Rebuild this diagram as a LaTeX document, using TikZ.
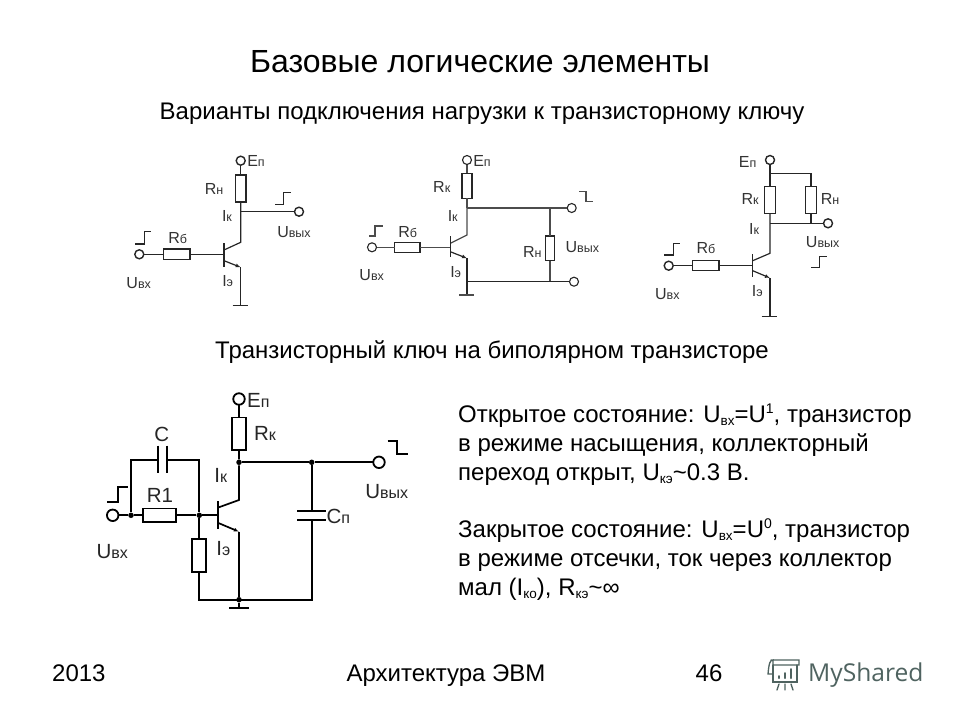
\documentclass[tikz,border=0pt]{standalone}
\usepackage{fontspec}
\setmainfont{Liberation Sans}
\newfontfamily\logofont{Open Sans}
\usetikzlibrary{arrows.meta}
\definecolor{logocol}{HTML}{4F6360}
\newcommand{\fs}[1]{\fontsize{#1}{#1}\selectfont}
\newcommand{\lo}[1]{\raisebox{-3.5pt}{\fs{13.5}#1}}
\newcommand{\hi}[1]{\raisebox{8.5pt}{\fs{14}#1}}
\newcommand{\ca}[1]{{\fs{16}#1}}
\newcommand{\cb}[1]{{\fs{20.5}#1}}
\tikzset{
  wire/.style={draw=black!85,line width=1.2pt},
  wireb/.style={draw=black,line width=1.7pt},
  rbox/.style={draw=black!85,line width=1.2pt,fill=white,rectangle,inner sep=0pt,outer sep=0pt},
  rboxb/.style={rbox,draw=black,line width=1.7pt},
  term/.style={draw=black!85,line width=1.4pt,fill=white,circle,inner sep=0pt,outer sep=0pt,minimum size=9pt},
  termb/.style={term,draw=black,line width=1.8pt,minimum size=11.5pt},
  dotn/.style={fill=black,circle,inner sep=0pt,minimum size=5.5pt},
  lab/.style={inner sep=0pt,text=black!80,font=\fs{12.5}},
  labb/.style={inner sep=0pt,text=black!85,font=\fs{16}},
  body/.style={inner sep=0pt,anchor=base west,font=\fs{24}},
  emit/.style={-{Latex[length=5pt,width=4pt]}},
}
\begin{document}
\begin{tikzpicture}[x=1pt,y=-1pt]
\useasboundingbox[fill=white] (0,0) rectangle (960,720);
% Texts
\node[inner sep=0pt,font=\fs{32}] (title) at (480,62) {Базовые логические элементы};
\node[inner sep=0pt,font=\fs{24}] (sub1) at (482,114) {Варианты подключения нагрузки к транзисторному ключу};
\node[inner sep=0pt,font=\fs{24}] (sub2) at (492,352) {Транзисторный ключ на биполярном транзисторе};
\node[body] (t1) at (458,422) {Открытое состояние: U\lo{вх}=U\hi{1}, транзистор};
\node[body] (t2) at (458,451) {в режиме насыщения, коллекторный};
\node[body] (t3) at (458,480) {переход открыт, U\lo{кэ}\textasciitilde0.3 В.};
\node[body] (t4) at (458,537) {Закрытое состояние: U\lo{вх}=U\hi{0}, транзистор};
\node[body] (t5) at (458,566.5) {в режиме отсечки, ток через коллектор};
\node[body] (t6) at (458,595) {мал (I\lo{ко}), R\lo{кэ}\textasciitilde∞};
\node[inner sep=0pt,anchor=base west,font=\fs{24}] (f1) at (52,681) {2013};
\node[inner sep=0pt,anchor=base,font=\fs{24}] (f2) at (446,681) {Архитектура ЭВМ};
\node[inner sep=0pt,anchor=base,font=\fs{24}] (f3) at (709,681) {46};
% Logo
\node[inner sep=0pt,anchor=west,text=logocol,font=\logofont\fs{24.6}] (logo) at (808,675) {MyShared};
\begin{scope}[draw=logocol,line width=1.3pt,line cap=round]
\draw (771,660) -- (799,660) -- (799,665) -- (773,665) -- (773,660) .. controls (770,660) and (769,663) .. (768,674) -- (772,674);
\draw (773,665) -- (773,682) -- (797,682) -- (797,665);
\draw (779,684) -- (777,690) (785,684) -- (785,690) (791,684) -- (793,690);
\draw[line width=2pt] (779,678) -- (779,676) (785,678) -- (785,673) (791,678) -- (791,669);
\end{scope}
% ---------- Circuit 1
\node[term] (a_e) at (240.7,160.7) {};
\node[rbox,minimum width=10.7pt,minimum height=27pt] (a_rn) at (240.7,188.5) {};
\coordinate (a_j) at (240.7,211.7);
\node[term] (a_out) at (299,211.7) {};
\coordinate (a_c) at (240.7,242.3);
\coordinate (a_bt) at (224,243.3);
\coordinate (a_bb) at (224,266.7);
\coordinate (a_cb) at (224,250);
\coordinate (a_eb) at (224,260.7);
\coordinate (a_ee) at (240.7,267.3);
\coordinate (a_g) at (240.7,305.7);
\coordinate (a_gl) at (232.7,305.7);
\coordinate (a_gr) at (248.3,305.7);
\coordinate (a_b) at (224,254.3);
\node[term] (a_in) at (139.3,254.3) {};
\node[rbox,minimum width=26.7pt,minimum height=10.7pt] (a_rb) at (176.7,254.3) {};
\draw[wire] (a_e) -- (a_rn);
\draw[wire] (a_rn) -- (a_j) -- (a_c) -- (a_cb);
\draw[wire] (a_j) -- (a_out);
\draw[wire] (a_bt) -- (a_bb);
\draw[wire,emit] (a_eb) -- (a_ee);
\draw[wire] (a_ee) -- (a_g);
\draw[wire] (a_gl) -- (a_gr);
\draw[wire] (a_in) -- (a_rb);
\draw[wire] (a_rb) -- (a_b);
\draw[wire] (135,244) -- (144.3,244) -- (144.3,231.7) -- (150.7,231.7);
\draw[wire] (275,204.3) -- (283.3,204.3) -- (283.3,192.7) -- (290.7,192.7);
\node[lab] (a_l1) at (256,161) {\ca{E}п};
\node[lab] (a_l2) at (214,189) {\ca{R}н};
\node[lab] (a_l3) at (227,216) {\ca{I}к};
\node[lab] (a_l4) at (177.7,237.7) {\ca{R}б};
\node[lab] (a_l5) at (138.7,283.3) {\ca{U}вх};
\node[lab] (a_l6) at (227.7,281) {\ca{I}э};
\node[lab] (a_l7) at (294,232.3) {\ca{U}вых};
% ---------- Circuit 2
\node[term,line width=1.1pt] (b_e) at (467,160) {};
\node[rbox,minimum width=10pt,minimum height=25pt] (b_rk) at (467,185.8) {};
\coordinate (b_j) at (467,208);
\node[term,line width=1.1pt] (b_out) at (571.7,208) {};
\coordinate (b_n) at (550,208);
\node[rbox,minimum width=9.7pt,minimum height=24.7pt] (b_rn) at (550,248.4) {};
\coordinate (b_m) at (550,281.7);
\node[term,line width=1.1pt] (b_lo) at (574,281.7) {};
\coordinate (b_c) at (467,235);
\coordinate (b_bt) at (450.3,236);
\coordinate (b_bb) at (450.3,257.3);
\coordinate (b_cb) at (450.3,243.3);
\coordinate (b_eb) at (450.3,251.7);
\coordinate (b_ee) at (467,258.3);
\coordinate (b_k) at (467,281.7);
\coordinate (b_g) at (467,295);
\coordinate (b_gl) at (459,295);
\coordinate (b_gr) at (474,295);
\coordinate (b_b) at (450.3,247.3);
\node[term,line width=1.1pt] (b_in) at (372,247.3) {};
\node[rbox,minimum width=25.3pt,minimum height=10pt] (b_rb) at (407.3,247.3) {};
\draw[wire,black!70] (b_e) -- (b_rk);
\draw[wire,black!70] (b_rk) -- (b_j);
\draw[wire,black!70] (b_j) -- (b_out);
\draw[wire,black!70] (b_j) -- (b_c) -- (b_cb);
\draw[wire,black!70] (b_n) -- (b_rn);
\draw[wire,black!70] (b_rn) -- (b_m);
\draw[wire] (b_bt) -- (b_bb);
\draw[wire,emit] (b_eb) -- (b_ee);
\draw[wire] (b_ee) -- (b_g);
\draw[wire] (b_k) -- (b_lo);
\draw[wire,black!70] (b_gl) -- (b_gr);
\draw[wire,black!70] (b_in) -- (b_rb);
\draw[wire,black!70] (b_rb) -- (b_b);
\draw[wire,black!70] (369,236) -- (375,236) -- (375,226) -- (382.7,226);
\draw[wire,black!70] (579.3,191.7) -- (586,191.7) -- (586,201.7) -- (593.3,201.7);
\node[lab] (b_l1) at (482,160.7) {\ca{E}п};
\node[lab] (b_l2) at (441.7,186.7) {\ca{R}к};
\node[lab] (b_l3) at (452.7,216) {\ca{I}к};
\node[lab] (b_l4) at (407.7,232.3) {\ca{R}б};
\node[lab] (b_l5) at (371.7,275) {\ca{U}вх};
\node[lab] (b_l6) at (455.7,272.3) {\ca{I}э};
\node[lab] (b_l7) at (532.3,251.7) {\ca{R}н};
\node[lab] (b_l8) at (582.3,246.7) {\ca{U}вых};
% ---------- Circuit 3
\node[term] (c_e) at (770,160) {};
\coordinate (c_t) at (770,173.3);
\coordinate (c_tr) at (811,173.3);
\node[rbox,minimum width=10.7pt,minimum height=26.7pt] (c_rk) at (770,200) {};
\node[rbox,minimum width=10.7pt,minimum height=26.7pt] (c_rn) at (811,200) {};
\coordinate (c_j) at (770,223.3);
\coordinate (c_jr) at (811,223.3);
\node[term] (c_out) at (828,223.3) {};
\coordinate (c_c) at (770,253.3);
\coordinate (c_bt) at (752.7,254.3);
\coordinate (c_bb) at (752.7,276.7);
\coordinate (c_cb) at (752.7,260.7);
\coordinate (c_eb) at (752.7,270.7);
\coordinate (c_ee) at (770,278);
\coordinate (c_g) at (770,316.7);
\coordinate (c_gl) at (761.7,316.7);
\coordinate (c_gr) at (777.3,316.7);
\coordinate (c_b) at (752.7,265.7);
\node[term] (c_in) at (668.7,265.7) {};
\node[rbox,minimum width=26.7pt,minimum height=10.3pt] (c_rb) at (705.7,265.7) {};
\draw[wire] (c_e) -- (c_rk);
\draw[wire] (c_t) -- (c_tr) -- (c_rn);
\draw[wire] (c_rk) -- (c_j) -- (c_c) -- (c_cb);
\draw[wire] (c_rn) -- (c_jr);
\draw[wire] (c_j) -- (c_out);
\draw[wire] (c_bt) -- (c_bb);
\draw[wire,emit] (c_eb) -- (c_ee);
\draw[wire] (c_ee) -- (c_g);
\draw[wire] (c_gl) -- (c_gr);
\draw[wire] (c_in) -- (c_rb);
\draw[wire] (c_rb) -- (c_b);
\draw[wire] (664.3,255) -- (673.3,255) -- (673.3,243.3) -- (680,243.3);
\draw[wire] (811,267.3) -- (819.3,267.3) -- (819.3,256.7) -- (826.7,256.7);
\node[lab] (c_l1) at (747.7,161.7) {\ca{E}п};
\node[lab] (c_l2) at (750,199) {\ca{R}к};
\node[lab] (c_l3) at (830,199) {\ca{R}н};
\node[lab] (c_l4) at (754,229) {\ca{I}к};
\node[lab] (c_l5) at (822.7,242.3) {\ca{U}вых};
\node[lab] (c_l6) at (706,248.3) {\ca{R}б};
\node[lab] (c_l7) at (667.3,294) {\ca{U}вх};
\node[lab] (c_l8) at (757.3,290.7) {\ca{I}э};
% ---------- Circuit 4
\node[termb] (d_e) at (239,399) {};
\node[rboxb,minimum width=13.7pt,minimum height=32.7pt] (d_rk) at (239,433.7) {};
\node[dotn] (d_j) at (239,462.3) {};
\node[dotn] (d_n) at (311.7,462.3) {};
\node[termb] (d_out) at (379,462.3) {};
\coordinate (d_p1) at (311.7,511);
\coordinate (d_p1l) at (297.3,511);
\coordinate (d_p1r) at (326,511);
\coordinate (d_p2) at (311.7,520);
\coordinate (d_p2l) at (297.3,520);
\coordinate (d_p2r) at (326,520);
\coordinate (d_br) at (311.7,599.7);
\node[dotn] (d_bm) at (239,599.7) {};
\coordinate (d_bl) at (199.3,599.7);
\coordinate (d_g) at (239,608.3);
\coordinate (d_gl) at (229.3,608.3);
\coordinate (d_gr) at (249,608.3);
\coordinate (d_c) at (239,500);
\coordinate (d_bt) at (217.7,501);
\coordinate (d_bb) at (217.7,529);
\coordinate (d_cb) at (217.7,507.7);
\coordinate (d_eb) at (217.7,522.7);
\coordinate (d_ee) at (239,531.7);
\coordinate (d_b) at (217.7,515.3);
\node[termb] (d_in) at (112.7,515.3) {};
\node[dotn] (d_i) at (131,515.3) {};
\node[rboxb,minimum width=33.3pt,minimum height=13.7pt] (d_r1) at (159.3,515.3) {};
\node[dotn] (d_q) at (199.3,515.3) {};
\node[rboxb,minimum width=14pt,minimum height=32.7pt] (d_r2) at (199.3,555.3) {};
\coordinate (d_tl) at (131,459.7);
\coordinate (d_tr) at (199.3,459.7);
\coordinate (d_cl) at (157.7,459.7);
\coordinate (d_cr) at (166.7,459.7);
\coordinate (d_clt) at (157.7,445.7);
\coordinate (d_clb) at (157.7,473.3);
\coordinate (d_crt) at (166.7,445.7);
\coordinate (d_crb) at (166.7,473.3);
\draw[wireb] (d_e) -- (d_rk);
\draw[wireb] (d_rk) -- (d_j) -- (d_c) -- (d_cb);
\draw[wireb] (d_j) -- (d_n) -- (d_out);
\draw[wireb] (d_n) -- (d_p1);
\draw[wireb] (d_p1l) -- (d_p1r);
\draw[wireb] (d_p2l) -- (d_p2r);
\draw[wireb] (d_p2) -- (d_br) -- (d_bl) -- (d_r2);
\draw[wireb] (d_r2) -- (d_q);
\draw[wireb] (d_bm) -- (d_g);
\draw[wireb] (d_gl) -- (d_gr);
\draw[wireb] (d_bt) -- (d_bb);
\draw[wireb,emit] (d_eb) -- (d_ee);
\draw[wireb] (d_ee) -- (d_bm);
\draw[wireb] (d_in) -- (d_i) -- (d_r1);
\draw[wireb] (d_r1) -- (d_q) -- (d_b);
\draw[wireb] (d_i) -- (d_tl) -- (d_cl);
\draw[wireb] (d_cr) -- (d_tr) -- (d_q);
\draw[wireb] (d_clt) -- (d_clb);
\draw[wireb] (d_crt) -- (d_crb);
\draw[wireb] (107.3,501.7) -- (117.7,501.7) -- (117.7,487.3) -- (127.7,487.3);
\draw[wireb] (387.7,441) -- (397.3,441) -- (397.3,454.3) -- (407.7,454.3);
\node[labb] (d_l1) at (258.3,400) {\cb{E}п};
\node[labb] (d_l2) at (161.7,434) {\cb{C}};
\node[labb] (d_l3) at (160,495.7) {\cb{R1}};
\node[labb] (d_l4) at (265,433.3) {\cb{R}к};
\node[labb] (d_l5) at (220.7,475) {\cb{I}к};
\node[labb] (d_l6) at (223.3,548.3) {\cb{I}э};
\node[labb] (d_l7) at (112.3,551.7) {\cb{U}вх};
\node[labb] (d_l8) at (338.3,516) {\cb{C}п};
\node[labb] (d_l9) at (386.7,491.7) {\cb{U}вых};
\end{tikzpicture}
\end{document}
